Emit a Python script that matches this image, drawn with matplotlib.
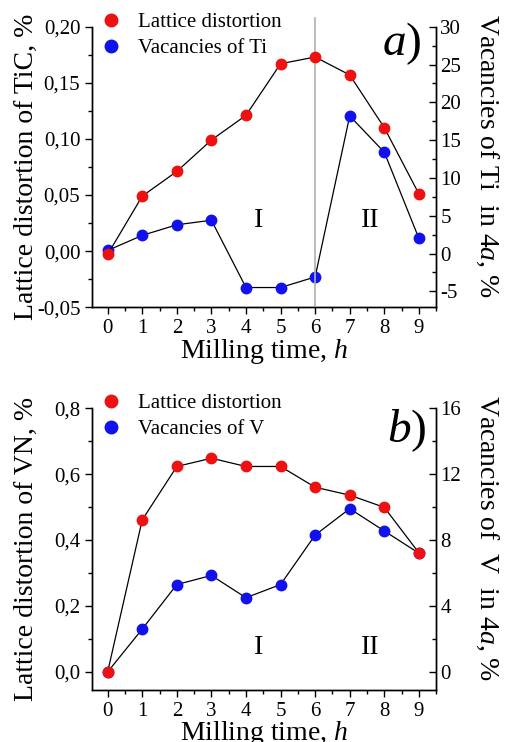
# Lattice distortion and vacancies vs milling time (two panels)
import matplotlib.pyplot as plt
from matplotlib.ticker import MultipleLocator, FormatStrFormatter, FuncFormatter

plt.rcParams['font.family'] = 'Liberation Serif'
plt.rcParams['mathtext.fontset'] = 'custom'
plt.rcParams['mathtext.rm'] = 'Liberation Serif'
plt.rcParams['mathtext.it'] = 'Liberation Serif:italic'

# Data
hours = [0, 1, 2, 3, 4, 5, 6, 7, 8, 9]
tic_distortion = [-0.003, 0.049, 0.071, 0.099, 0.121, 0.167, 0.173, 0.157, 0.110, 0.051]
ti_vacancies = [0.4, 2.4, 3.8, 4.4, -4.5, -4.5, -3.1, 18.2, 13.4, 2.0]
vn_distortion = [0.0, 0.461, 0.623, 0.648, 0.623, 0.623, 0.560, 0.536, 0.499, 0.361]
v_vacancies = [0.0, 2.6, 5.3, 5.85, 4.5, 5.3, 8.3, 9.9, 8.55, 7.2]

RED = '#ee1111'
BLUE = '#1111ee'

fig = plt.figure(figsize=(5.06, 7.42), dpi=100)


def comma(x, digits):
    return f"{x:.{digits}f}".replace(".", ",")


def panel(rect, left_vals, right_vals, left_lim, right_lim, left_step, right_step,
          left_digits, left_label, right_label, letter, letter_xy, names, region_y):
    ax = fig.add_axes(rect)
    ax2 = ax.twinx()
    # red series drawn above the blue one
    ax.set_zorder(ax2.get_zorder() + 1)
    ax.patch.set_visible(False)

    ax2.plot(hours, right_vals, color='black', lw=0.9, zorder=2)
    ax2.plot(hours, right_vals, 'o', color=BLUE, ms=7.5, zorder=3)
    ax.plot(hours, left_vals, color='black', lw=0.9, zorder=2)
    ax.plot(hours, left_vals, 'o', color=RED, ms=7.5, zorder=3)

    ax.set_xlim(-0.45, 9.5)
    ax.set_ylim(*left_lim)
    ax2.set_ylim(*right_lim)

    ax.xaxis.set_major_locator(MultipleLocator(1))
    ax.xaxis.set_minor_locator(MultipleLocator(0.5))
    ax.yaxis.set_major_locator(MultipleLocator(left_step))
    ax.yaxis.set_minor_locator(MultipleLocator(left_step / 2))
    ax.yaxis.set_major_formatter(FuncFormatter(lambda x, p: comma(x, left_digits)))
    ax2.yaxis.set_major_locator(MultipleLocator(right_step))
    ax2.yaxis.set_minor_locator(MultipleLocator(right_step / 2))
    ax2.yaxis.set_major_formatter(FormatStrFormatter('%d'))

    ax.tick_params(axis='both', which='major', direction='out', length=5, width=1, labelsize=15)
    ax.tick_params(axis='both', which='minor', direction='out', length=3, width=1)
    ax2.tick_params(axis='y', which='major', direction='in', length=5, width=1, labelsize=15, pad=3)
    ax2.tick_params(axis='y', which='minor', direction='in', length=3, width=1)

    for a in (ax, ax2):
        a.spines['top'].set_visible(False)
        for s in ('left', 'right', 'bottom'):
            a.spines[s].set_linewidth(1)

    ax.set_xlabel('Milling time, $\\mathit{h}$', fontsize=20, labelpad=-1)
    ax.set_ylabel(left_label, fontsize=20, va='center')
    ax.yaxis.set_label_coords(-0.19, 0.5)
    ax2.set_ylabel(right_label, fontsize=20, rotation=-90, va='center')
    ax2.yaxis.set_label_coords(1.148, 0.54)

    ax.text(4.35, region_y, 'I', fontsize=20, ha='center', va='center')
    ax.text(7.6, region_y, 'II', fontsize=20, ha='center', va='center')

    # legend drawn with proxy markers
    ax.plot([], [], 'o', color=RED, ms=9, label=names[0])
    ax.plot([], [], 'o', color=BLUE, ms=9, label=names[1])
    ax.legend(loc='upper left', bbox_to_anchor=(0.0, 1.08), frameon=False, fontsize=15,
              handlelength=1.0, handletextpad=0.8, borderaxespad=0, labelspacing=0.3)

    ax.text(letter_xy[0], letter_xy[1], f'$\\mathit{{{letter}}}$)', transform=ax.transAxes,
            fontsize=34, ha='center', va='center')
    return ax, ax2


ax_a, ax_a2 = panel([0.182, 0.586, 0.680, 0.378], tic_distortion, ti_vacancies,
                    (-0.05, 0.20), (-7.1, 30), 0.05, 5, 2,
                    'Lattice distortion of TiC, %', 'Vacancies of Ti  in 4$\\mathit{a}$, %',
                    'a', (0.90, 0.94), ('Lattice distortion', 'Vacancies of Ti'), 0.027)
ax_a.axvline(6, ymin=0, ymax=1.03, color='#b0b0b0', lw=1.2, clip_on=False, zorder=1)

ax_b, ax_b2 = panel([0.182, 0.070, 0.680, 0.380], vn_distortion, v_vacancies,
                    (-0.055, 0.8), (-1.1, 16), 0.2, 4, 1,
                    'Lattice distortion of VN, %', 'Vacancies of  V  in 4$\\mathit{a}$, %',
                    'b', (0.915, 0.92), ('Lattice distortion', 'Vacancies of V'), 0.073)

fig.savefig('out.png', dpi=100)
